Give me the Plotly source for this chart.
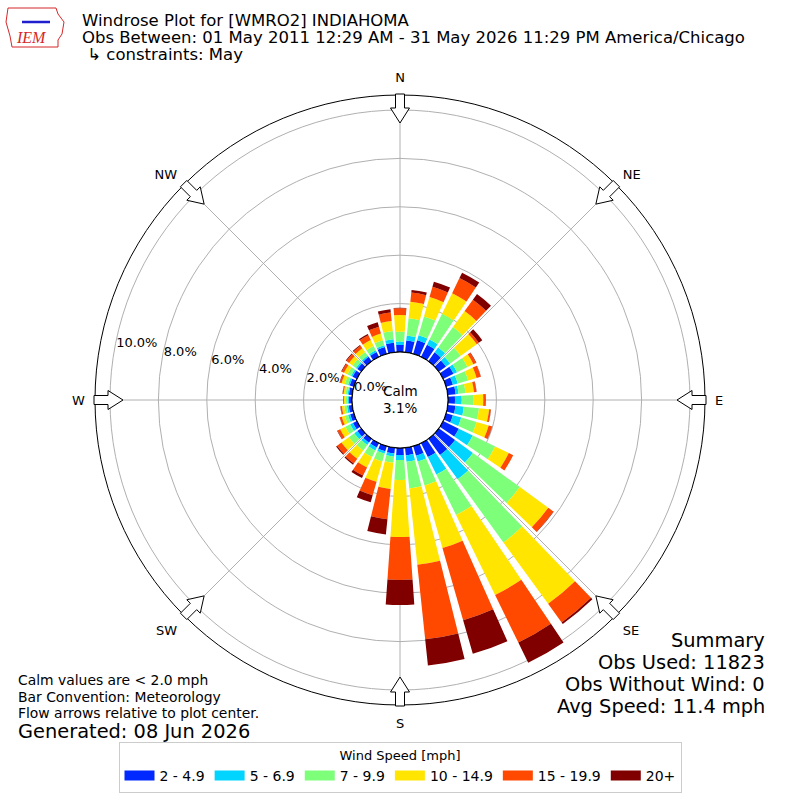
import math
import plotly.graph_objects as go

# wind direction bins (degrees, meteorological: direction wind blows from)
directions = list(range(0, 360, 10))

speed_bins = ["2 - 4.9", "5 - 6.9", "7 - 9.9", "10 - 14.9", "15 - 19.9", "20+"]
bin_colors = ["#0028ff", "#00d4ff", "#7dff7a", "#ffe500", "#ff4800", "#800000"]

# percent of observations per direction, one list per speed bin (0, 10, ... 350 deg)
pct_2_5 = [0.29, 0.49, 0.58, 0.56, 0.45, 0.37, 0.48, 0.29, 0.33, 0.29, 0.32, 0.29,
           0.72, 0.83, 0.83, 0.64, 0.41, 0.32, 0.29, 0.24, 0.22, 0.20, 0.20, 0.20,
           0.18, 0.16, 0.15, 0.13, 0.14, 0.18, 0.20, 0.20, 0.22, 0.22, 0.29, 0.40]
pct_5_7 = [0.14, 0.21, 0.22, 0.24, 0.25, 0.21, 0.16, 0.21, 0.12, 0.28, 0.35, 0.36,
           0.64, 0.91, 1.24, 0.80, 0.25, 0.26, 0.21, 0.13, 0.10, 0.14, 0.12, 0.15,
           0.13, 0.09, 0.07, 0.05, 0.05, 0.07, 0.07, 0.07, 0.07, 0.08, 0.08, 0.14]
pct_7_10 = [0.41, 0.71, 0.81, 1.18, 1.04, 0.54, 0.48, 0.45, 0.29, 0.48, 0.63, 0.66,
            1.03, 2.40, 3.22, 1.86, 1.03, 1.11, 0.82, 0.25, 0.34, 0.30, 0.28, 0.28,
            0.22, 0.14, 0.11, 0.08, 0.09, 0.14, 0.16, 0.17, 0.18, 0.20, 0.21, 0.34]
pct_10_15 = [0.69, 0.69, 0.83, 0.95, 0.82, 0.82, 0.27, 0.36, 0.35, 0.41, 0.42, 0.52,
             0.63, 1.45, 3.14, 3.68, 2.69, 3.17, 2.36, 1.09, 0.87, 0.48, 0.42, 0.38,
             0.24, 0.13, 0.10, 0.07, 0.08, 0.14, 0.16, 0.18, 0.19, 0.27, 0.29, 0.42]
pct_15_20 = [0.28, 0.38, 0.44, 0.69, 0.58, 0.10, 0.12, 0.18, 0.10, 0.10, 0.07, 0.14,
             0.20, 0.26, 0.95, 2.19, 3.10, 3.10, 1.77, 1.26, 0.58, 0.37, 0.24, 0.22,
             0.12, 0.09, 0.06, 0.03, 0.04, 0.07, 0.10, 0.13, 0.13, 0.22, 0.30, 0.35]
pct_20p = [0.02, 0.11, 0.22, 0.25, 0.29, 0.18, 0.02, 0.01, 0.01, 0.01, 0.01, 0.01,
           0.00, 0.02, 0.08, 0.93, 1.45, 1.09, 1.04, 0.63, 0.30, 0.11, 0.06, 0.05,
           0.02, 0.01, 0.01, 0.01, 0.01, 0.02, 0.03, 0.04, 0.04, 0.06, 0.19, 0.14]

series = [pct_2_5, pct_5_7, pct_7_10, pct_10_15, pct_15_20, pct_20p]

calm_pct = 3.1
compass = ["N", "NE", "E", "SE", "S", "SW", "W", "NW"]
compass_deg = [0, 45, 90, 135, 180, 225, 270, 315]
ring_vals = [0, 2, 4, 6, 8, 10]

FONT = "DejaVu Sans"
W = H = 800
CX, CY, R_OUT, R_HOLE = 400, 400, 305, 48
RAD_ANGLE = 169.5


def px(x, y):
    return x / W, 1 - y / H


fig = go.Figure()

for name, color, vals in zip(speed_bins, bin_colors, series):
    fig.add_trace(go.Barpolar(r=vals, theta=directions, width=[8] * len(directions),
                              name=name, showlegend=False,
                              marker=dict(color=color, line=dict(width=0))))

# legend entries drawn as wide swatches (legend only, no data)
for name, color in zip(speed_bins, bin_colors):
    fig.add_trace(go.Scatterpolar(r=[None], theta=[None], mode="lines", name=name,
                                  line=dict(color=color, width=10)))

# inner (calm) circle edge
fig.add_trace(go.Scatterpolar(r=[0] * 361, theta=list(range(361)), mode="lines",
                              line=dict(color="black", width=1.2), showlegend=False,
                              hoverinfo="skip"))

x0, y0 = px(CX - R_OUT, CY + R_OUT)
x1, y1 = px(CX + R_OUT, CY - R_OUT)
fig.update_layout(
    width=W, height=H, margin=dict(l=0, r=0, t=0, b=0),
    paper_bgcolor="white", font=dict(family=FONT, color="black", size=13),
    polar=dict(
        domain=dict(x=[x0, x1], y=[y0, y1]),
        hole=R_HOLE / R_OUT, bgcolor="white", barmode="stack",
        angularaxis=dict(direction="clockwise", rotation=90,
                         tickvals=compass_deg, ticktext=compass,
                         showgrid=True, gridcolor="#b0b0b0", gridwidth=1,
                         showline=True, linecolor="black", linewidth=1,
                         ticks="outside", ticklen=7, tickcolor="rgba(0,0,0,0)",
                         tickfont=dict(size=13), layer="above traces"),
        radialaxis=dict(range=[0, 10.62], tickvals=ring_vals,
                        ticktext=["%.1f%%" % v for v in ring_vals],
                        angle=RAD_ANGLE, tickangle=RAD_ANGLE, side="clockwise",
                        showline=False, ticks="", showgrid=True,
                        gridcolor="#b0b0b0", gridwidth=1,
                        tickfont=dict(size=13), layer="above traces"),
    ),
    legend=dict(orientation="h", x=0.5, xanchor="center", y=1 - 742 / H, yanchor="top",
                bordercolor="#cccccc", borderwidth=1, bgcolor="white",
                title=dict(text="Wind Speed [mph]", side="top center", font=dict(size=13)),
                font=dict(size=14), traceorder="normal"),
    showlegend=True,
)

# flow arrows on the outer circle, pointing toward the center
shapes = []
outline = [(306, -4.5), (292, -4.5), (292, -9.5), (277, 0), (292, 9.5), (292, 4.5), (306, 4.5)]
for deg in compass_deg:
    t = math.radians(deg)
    ux, uy = math.sin(t), -math.cos(t)
    qx, qy = math.cos(t), math.sin(t)
    pts = [px(CX + a * ux + w * qx, CY + a * uy + w * qy) for a, w in outline]
    path = "M " + " L ".join("%.5f,%.5f" % p for p in pts) + " Z"
    shapes.append(dict(type="path", xref="paper", yref="paper", path=path,
                       fillcolor="white", line=dict(color="black", width=1)))

# rough IEM logo: state outline and station glyph
logo = [(8, 8), (56, 8), (58, 14), (64, 22), (62, 34), (58, 40), (58, 47), (12, 47), (10, 36), (6, 22)]
path = "M " + " L ".join("%.5f,%.5f" % px(x, y) for x, y in logo) + " Z"
shapes.append(dict(type="path", xref="paper", yref="paper", path=path,
                   fillcolor="white", line=dict(color="#d62728", width=1)))
lx0, ly0 = px(22, 22)
lx1, ly1 = px(50, 22)
shapes.append(dict(type="line", xref="paper", yref="paper", x0=lx0, y0=ly0, x1=lx1, y1=ly1,
                   line=dict(color="#1f1fd0", width=2.5)))
fig.update_layout(shapes=shapes)


def text(x, y, s, size, anchor="left", color="black", family=FONT, valign="middle"):
    xp, yp = px(x, y)
    fig.add_annotation(x=xp, y=yp, xref="paper", yref="paper", text=s, showarrow=False,
                       xanchor=anchor, yanchor=valign, align=anchor,
                       font=dict(size=size, color=color, family=family))


text(80, 20, "Windrose Plot for [WMRO2] INDIAHOMA", 16.5)
text(80, 38, "Obs Between: 01 May 2011 12:29 AM - 31 May 2026 11:29 PM America/Chicago", 16.5)
text(80, 55, " ↳ constraints: May", 16.5)
text(31, 38, "<i>IEM</i>", 16, anchor="center", color="#d62728", family="Liberation Serif")

text(CX, CY - 9, "Calm", 13.5, anchor="center")
text(CX, CY + 8, "%.1f%%" % calm_pct, 13.5, anchor="center")

text(16, 680, "Calm values are &lt; 2.0 mph", 13.9)
text(16, 697, "Bar Convention: Meteorology", 13.9)
text(16, 713, "Flow arrows relative to plot center.", 13.9)
text(16, 731, "Generated: 08 Jun 2026", 19.4)

text(767, 640, "Summary", 19.4, anchor="right")
text(767, 662, "Obs Used: 11823", 19.4, anchor="right")
text(767, 684, "Obs Without Wind: 0", 19.4, anchor="right")
text(767, 706, "Avg Speed: 11.4 mph", 19.4, anchor="right")

fig.write_html("out.html", config={"displayModeBar": False},
               post_script="document.body.style.margin='0';")
